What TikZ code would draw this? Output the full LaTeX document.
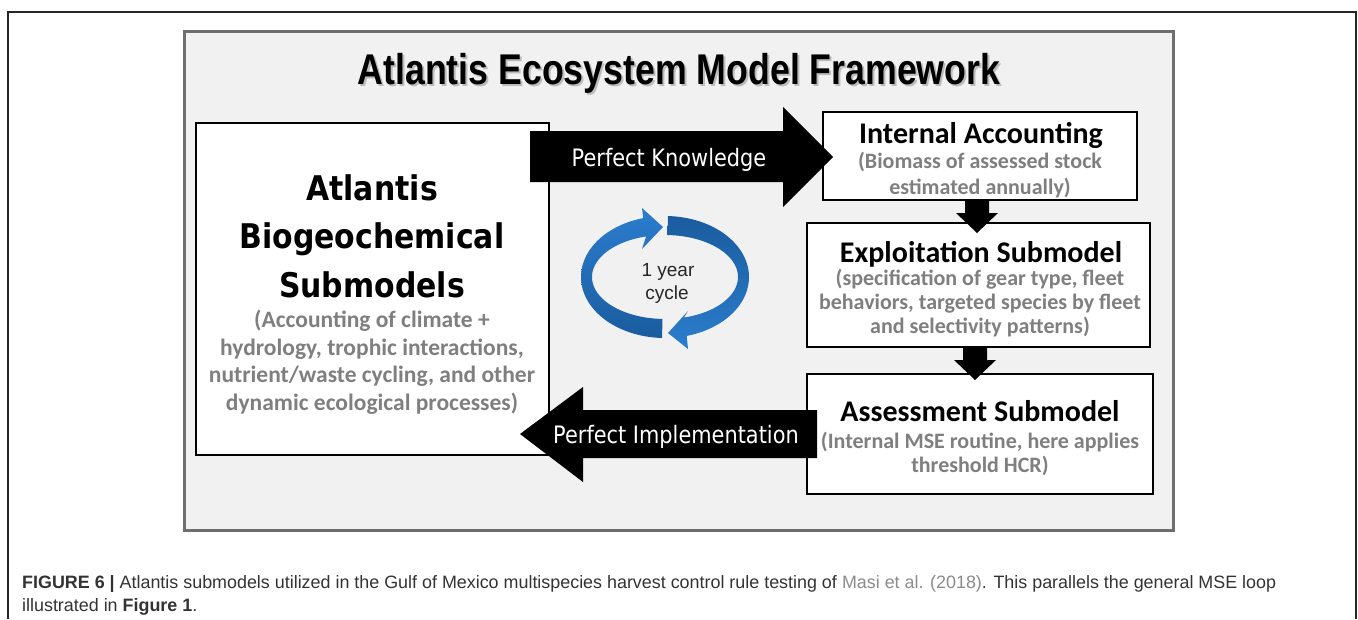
\documentclass[tikz,border=0pt]{standalone}
\usepackage{fontspec}
\setmainfont{Liberation Sans}
\newfontfamily\titlefont[FakeStretch=0.83]{Liberation Sans}
\newfontfamily\headfont{Carlito}
\newfontfamily\bigfont[FakeStretch=0.88]{DejaVu Sans}
\newfontfamily\arrfont[FakeStretch=0.87]{DejaVu Sans}
\newfontfamily\capfont{Liberation Sans}
\usetikzlibrary{calc}
\definecolor{panelfill}{HTML}{F1F1F1}
\definecolor{panelline}{HTML}{6E6E6E}
\definecolor{subgray}{HTML}{7F7F7F}
\definecolor{cycdark}{HTML}{1A5C9E}
\definecolor{cyclight}{HTML}{2B7DCE}
\definecolor{linkgray}{HTML}{8C8C8C}
\begin{document}
\begin{tikzpicture}[x=1pt,y=-1pt,
  panelbox/.style={draw=panelline, line width=3pt, fill=panelfill, inner sep=0pt},
  box/.style={draw=black, line width=2pt, fill=white, inner sep=0pt},
  fat/.style={fill=black},
  titletext/.style={font=\titlefont\bfseries\fontsize{43}{43}\selectfont, anchor=base, inner sep=0pt},
  head/.style={font=\headfont\bfseries\fontsize{30}{30}\selectfont, anchor=base, inner sep=0pt},
  sub/.style={font=\headfont\bfseries\fontsize{22}{22}\selectfont, text=subgray, anchor=base, inner sep=0pt},
  bigsub/.style={font=\headfont\bfseries\fontsize{23.5}{23.5}\selectfont, text=subgray, anchor=base, inner sep=0pt},
  bighead/.style={font=\bigfont\bfseries\fontsize{34}{34}\selectfont, anchor=base, inner sep=0pt},
  arrlabel/.style={font=\arrfont\fontsize{24}{24}\selectfont, text=white, anchor=base, inner sep=0pt},
  cyctext/.style={font=\fontsize{19}{19}\selectfont, text=black!85, anchor=base, inner sep=0pt},
  captext/.style={font=\capfont\fontsize{17.9}{23}\selectfont, text=black!80, anchor=base west, inner sep=0pt},
  downarrow/.pic={\fill (-12,0) -- (12,0) -- (12,12) -- (21,12) -- (0,32) -- (-21,12) -- (-12,12) -- cycle;}
]
\useasboundingbox (0,0) rectangle (1358,619);
\fill[white] (0,0) rectangle (1358,619);

% page frame, open at the bottom
\draw[line width=1.2pt, black!85] (8,619) -- (8,12) -- (1356,12) -- (1356,619);

% grey framework panel
\node[panelbox, minimum width=989, minimum height=499] (panel) at (678.5,281) {};

% title with a soft drop shadow
\node[titletext, text=black, opacity=0.22] (titleshadow) at (681,86) {Atlantis Ecosystem Model Framework};
\node[titletext] (title) at (679,84) {Atlantis Ecosystem Model Framework};

% submodel boxes
\node[box, minimum width=353, minimum height=332] (bio) at (372.5,289) {};
\node[box, minimum width=314, minimum height=88]  (ia)  at (980,156) {};
\node[box, minimum width=343, minimum height=124] (ex)  at (978.5,285) {};
\node[box, minimum width=346, minimum height=120] (as)  at (980,434) {};

% biogeochemical box text
\node[bighead] (bioA) at (372,200) {Atlantis};
\node[bighead] (bioB) at (372,248) {Biogeochemical};
\node[bighead] (bioC) at (372,297) {Submodels};
\node[bigsub] (bioD) at (372,327) {(Accounting of climate +};
\node[bigsub] (bioE) at (372,355) {hydrology, trophic interactions,};
\node[bigsub] (bioF) at (372,382) {nutrient/waste cycling, and other};
\node[bigsub] (bioG) at (372,410) {dynamic ecological processes)};

% internal accounting text
\node[head] (iaA) at (981,143) {Internal Accounting};
\node[sub]  (iaB) at (980,168) {(Biomass of assessed stock};
\node[sub]  (iaC) at (980,194) {estimated annually)};

% exploitation text
\node[head] (exA) at (981,262) {Exploitation Submodel};
\node[sub]  (exB) at (980,285) {(specification of gear type, fleet};
\node[sub]  (exC) at (980,309) {behaviors, targeted species by fleet};
\node[sub]  (exD) at (980,333) {and selectivity patterns)};

% assessment text
\node[head] (asA) at (980,421) {Assessment Submodel};
\node[sub]  (asB) at (980,448) {(Internal MSE routine, here applies};
\node[sub]  (asC) at (980,472) {threshold HCR)};

% flow between the right-hand boxes
\pic at ([xshift=-3pt]ia.south) {downarrow};
\pic at ([xshift=-3.5pt]ex.south) {downarrow};

% Perfect Knowledge: biogeochemical box -> internal accounting
\fill[fat] (530,131) -- (783,131) -- (783,107) -- (833,157) -- (783,207) -- (783,182) -- (530,182) -- cycle;
\node[arrlabel] (pk) at (669,166) {Perfect Knowledge};

% Perfect Implementation: assessment -> biogeochemical box
\fill[fat] (817,410) -- (583,410) -- (583,387) -- (520,434) -- (583,482) -- (583,458) -- (817,458) -- cycle;
\node[arrlabel] (pi) at (676,443) {Perfect Implementation};

% annual cycle ribbon: two curved arrows
\path[top color=cyclight, bottom color=cycdark]
  plot[domain=268:105, samples=60] ({665+84*cos(\x)},{277-61*sin(\x)})
  -- (642,208) -- (663,227) -- (642,249)
  -- plot[domain=105:268, samples=60] ({665+73*cos(\x)},{277-42*sin(\x)}) -- cycle;
\path[top color=cycdark, bottom color=cyclight]
  plot[domain=88:-75, samples=60] ({665+84*cos(\x)},{277-61*sin(\x)})
  -- (688,349) -- (668,333) -- (688,311)
  -- plot[domain=-75:88, samples=60] ({665+73*cos(\x)},{277-42*sin(\x)}) -- cycle;
\node[cyctext] (cyc1) at (668,276) {1 year};
\node[cyctext] (cyc2) at (667,299) {cycle};

% caption
\node[captext] (cap1) at (22,588) {\textbf{FIGURE 6 |} Atlantis submodels utilized in the Gulf of Mexico multispecies harvest control rule testing of \textcolor{linkgray}{Masi et al. (2018)}. This parallels the general MSE loop};
\node[captext] (cap2) at (22,611) {illustrated in \textbf{Figure 1}.};
\end{tikzpicture}
\end{document}
